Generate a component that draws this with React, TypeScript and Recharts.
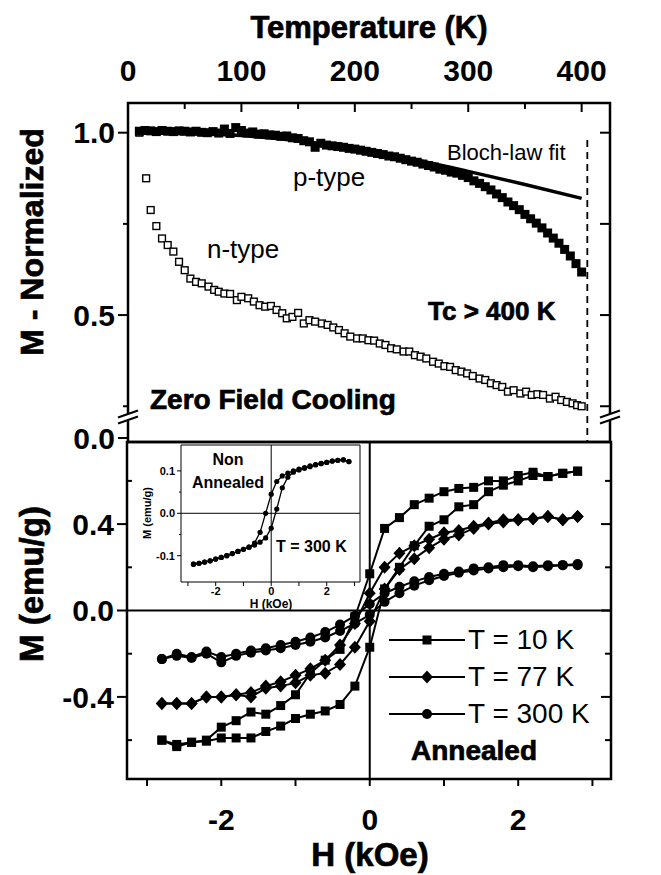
import React from "react";
import {
  ComposedChart,
  Line,
  Scatter,
  XAxis,
  YAxis,
  ReferenceLine,
  ReferenceArea,
  ReferenceDot,
  Legend,
} from "recharts";

const FONT = "'Liberation Sans', Arial, Helvetica, sans-serif";

// ---------- top panel: zero field cooling ----------
const TEMP_TICKS = [0, 50, 100, 150, 200, 250, 300, 350, 400];
const NORM_LO = 0.152;
const NORM_HI = 1.0814;
const NORM_ZERO = 0.163; // "0.0" sits just below the axis break
const NORM_BREAK = 0.222;
const NORM_TICKS = [NORM_ZERO, 0.25, 0.5, 0.75, 1.0];

const P_TEMP = [
  10, 15, 20, 25, 30, 35, 40, 45, 50, 55, 60, 65, 70, 75, 80, 85, 90, 95, 100,
  105, 110, 115, 120, 125, 130, 135, 140, 145, 150, 155, 160, 165, 170, 175, 180,
  185, 190, 195, 200, 205, 210, 215, 220, 225, 230, 235, 240, 245, 250, 255, 260,
  265, 270, 275, 280, 285, 290, 295, 300, 305, 310, 315, 320, 325, 330, 335, 340,
  345, 350, 355, 360, 365, 370, 375, 380, 385, 390, 395, 400,
];
const P_M = [
  1.004, 1.006, 1.005, 1.003, 1.006, 1.004, 1.003, 1.005, 1.004, 1.002, 1.004,
  1.001, 1.0, 1.003, 0.999, 1.01, 0.998, 1.014, 1.006, 0.999, 1.002, 0.996, 0.997,
  0.994, 0.993, 0.99, 0.991, 0.986, 0.984, 0.978, 0.975, 0.96, 0.971, 0.966, 0.964,
  0.962, 0.96, 0.957, 0.955, 0.952, 0.949, 0.946, 0.943, 0.94, 0.936, 0.934, 0.93,
  0.926, 0.922, 0.919, 0.914, 0.91, 0.906, 0.9, 0.897, 0.892, 0.889, 0.883, 0.877,
  0.868, 0.861, 0.852, 0.843, 0.832, 0.822, 0.81, 0.8, 0.789, 0.776, 0.764, 0.752,
  0.739, 0.725, 0.711, 0.697, 0.68, 0.662, 0.641, 0.618,
];

const N_TEMP = [
  10, 16, 20, 25, 30, 35, 40, 45, 50, 55, 60, 65, 71, 76, 80, 85, 90, 96, 100, 106,
  111, 116, 121, 126, 131, 136, 140, 145, 150, 155, 160, 165, 171, 176, 181, 186,
  191, 196, 202, 207, 212, 217, 222, 227, 232, 237, 243, 248, 253, 258, 263, 269,
  274, 279, 284, 289, 294, 299, 304, 310, 315, 320, 325, 330, 335, 340, 346, 351,
  356, 361, 366, 372, 377, 382, 387, 392, 396, 400,
];
const N_M = [
  1.0, 0.875, 0.788, 0.744, 0.71, 0.692, 0.674, 0.646, 0.623, 0.6, 0.591, 0.587,
  0.578, 0.569, 0.564, 0.559, 0.558, 0.541, 0.55, 0.546, 0.537, 0.527, 0.523, 0.525,
  0.514, 0.505, 0.491, 0.495, 0.506, 0.477, 0.486, 0.482, 0.477, 0.473, 0.466, 0.459,
  0.45, 0.441, 0.436, 0.436, 0.431, 0.43, 0.422, 0.418, 0.409, 0.406, 0.4, 0.4, 0.39,
  0.386, 0.381, 0.372, 0.367, 0.36, 0.358, 0.349, 0.345, 0.34, 0.333, 0.326, 0.322,
  0.313, 0.308, 0.303, 0.29, 0.294, 0.285, 0.29, 0.281, 0.283, 0.281, 0.271, 0.276,
  0.267, 0.262, 0.258, 0.253, 0.25,
];

const BLOCH_TEMP = [10, 50, 100, 150, 200, 250, 300, 350, 400];
const BLOCH_M = [1.0, 0.998, 0.992, 0.978, 0.956, 0.928, 0.894, 0.858, 0.82];
const TC_LINE_TEMP = 405;

// ---------- bottom panel: hysteresis loops ----------
const FIELD_TICKS = [-3, -2, -1, 0, 1, 2, 3];
const MOMENT_TICKS = [-0.6, -0.4, -0.2, 0, 0.2, 0.4, 0.6];
const H_FIELD = [
  -2.8, -2.6, -2.4, -2.2, -2.0, -1.8, -1.6, -1.4, -1.2, -1.0, -0.8, -0.6, -0.4,
  -0.2, 0.0, 0.2, 0.4, 0.6, 0.8, 1.0, 1.2, 1.4, 1.6, 1.8, 2.0, 2.2, 2.4, 2.6, 2.8,
];
const DESC_10K = [
  -0.6, -0.62, -0.61, -0.6, -0.54, -0.51, -0.47, -0.48, -0.44, -0.39, -0.29, -0.23,
  -0.18, -0.03, 0.17, 0.38, 0.43, 0.49, 0.52, 0.55, 0.565, 0.57, 0.6, 0.6, 0.625,
  0.64, 0.62, 0.635, 0.645,
];
const ASC_10K = [
  -0.6, -0.63, -0.61, -0.605, -0.59, -0.59, -0.59, -0.56, -0.535, -0.5, -0.48,
  -0.465, -0.435, -0.35, -0.17, 0.1, 0.2, 0.3, 0.39, 0.42, 0.48, 0.49, 0.55, 0.58,
  0.6, 0.625, 0.62, 0.635, 0.645,
];
const DESC_77K = [
  -0.43, -0.43, -0.43, -0.4, -0.4, -0.39, -0.38, -0.35, -0.33, -0.3, -0.27, -0.23,
  -0.16, -0.06, 0.08, 0.2, 0.265, 0.3, 0.33, 0.36, 0.37, 0.39, 0.405, 0.42, 0.42,
  0.425, 0.435, 0.42, 0.435,
];
const ASC_77K = [
  -0.43, -0.43, -0.43, -0.4, -0.4, -0.39, -0.4, -0.36, -0.35, -0.335, -0.3, -0.29,
  -0.25, -0.17, -0.05, 0.1, 0.19, 0.24, 0.29, 0.33, 0.35, 0.38, 0.4, 0.41, 0.42,
  0.425, 0.435, 0.42, 0.435,
];
const DESC_300K = [
  -0.225, -0.2, -0.215, -0.19, -0.215, -0.2, -0.185, -0.175, -0.16, -0.145, -0.125,
  -0.1, -0.065, -0.025, 0.03, 0.08, 0.11, 0.135, 0.155, 0.17, 0.18, 0.195, 0.2, 0.21,
  0.21, 0.205, 0.21, 0.21, 0.21,
];
const ASC_300K = [
  -0.225, -0.21, -0.22, -0.2, -0.24, -0.21, -0.195, -0.185, -0.175, -0.16, -0.145,
  -0.125, -0.095, -0.06, -0.02, 0.04, 0.08, 0.115, 0.14, 0.16, 0.175, 0.185, 0.195,
  0.2, 0.205, 0.2, 0.205, 0.21, 0.215,
];

// inset: non annealed, 300 K
const INSET_FIELD_TICKS = [-3, -2, -1, 0, 1, 2, 3];
const INSET_MOMENT_TICKS = [-0.1, -0.05, 0, 0.05, 0.1];
const DESC_INSET = [
  -0.12, -0.118, -0.115, -0.112, -0.108, -0.104, -0.1, -0.095, -0.09, -0.085, -0.08,
  -0.07, -0.045, 0.0, 0.045, 0.075, 0.088, 0.095, 0.1, 0.104, 0.108, 0.112, 0.115,
  0.118, 0.12, 0.123, 0.125, 0.126, 0.122,
];
const ASC_INSET = [
  -0.12, -0.118, -0.115, -0.112, -0.108, -0.104, -0.1, -0.095, -0.09, -0.085, -0.08,
  -0.075, -0.068, -0.058, -0.035, 0.01, 0.06, 0.085, 0.097, 0.102, 0.106, 0.11, 0.114,
  0.117, 0.12, 0.123, 0.125, 0.126, 0.122,
];

const pType = P_TEMP.map((t, i) => ({ t, m: P_M[i] }));
const nType = N_TEMP.map((t, i) => ({ t, m: N_M[i] }));
const bloch = BLOCH_TEMP.map((t, i) => ({ t, m: BLOCH_M[i] }));
const loop = (vals: number[]) => H_FIELD.map((h, i) => ({ h, m: vals[i] }));

// ---------- marks ----------
const filledSquare = (p: any) =>
  p.cx == null ? <g /> : (
    <rect x={p.cx - 4.5} y={p.cy - 4.5} width={9} height={9} fill="#000" />
  );
const openSquare = (p: any) =>
  p.cx == null ? <g /> : (
    <rect x={p.cx - 3.4} y={p.cy - 3.4} width={6.8} height={6.8} fill="#fff" stroke="#000" strokeWidth={1.4} />
  );

const drawSquare = (cx: number, cy: number) => (
  <rect x={cx - 4.5} y={cy - 4.5} width={9} height={9} fill="#000" />
);
const drawDiamond = (cx: number, cy: number) => (
  <polygon points={`${cx},${cy - 6.5} ${cx + 6},${cy} ${cx},${cy + 6.5} ${cx - 6},${cy}`} fill="#000" />
);
const drawCircle = (cx: number, cy: number) => <circle cx={cx} cy={cy} r={5} fill="#000" />;
const MARKS: Record<string, (cx: number, cy: number) => React.ReactElement> = {
  "T = 10 K": drawSquare,
  "T = 77 K": drawDiamond,
  "T = 300 K": drawCircle,
};
const dotOf = (draw: (cx: number, cy: number) => React.ReactElement) => (p: any) =>
  p.cx == null ? <g key={p.index} /> : <g key={p.index}>{draw(p.cx, p.cy)}</g>;
const insetDot = (p: any) =>
  p.cx == null ? <g key={p.index} /> : <circle key={p.index} cx={p.cx} cy={p.cy} r={2.6} fill="#000" />;

const BreakMark = (p: any) => {
  const { cx, cy } = p;
  return (
    <g>
      <polygon points={`${cx - 10},${cy + 1} ${cx + 10},${cy - 6} ${cx + 10},${cy} ${cx - 10},${cy + 7}`} fill="#fff" />
      <line x1={cx - 10} y1={cy + 1} x2={cx + 10} y2={cy - 6} stroke="#000" strokeWidth={2} />
      <line x1={cx - 10} y1={cy + 7} x2={cx + 10} y2={cy} stroke="#000" strokeWidth={2} />
    </g>
  );
};

// ---------- ticks ----------
const tickText = { fontSize: 30, fontWeight: "bold" as const, fontFamily: FONT, fill: "#000" };

const TempTick = (p: any) => {
  const v = p.payload.value;
  const major = v % 100 === 0;
  return (
    <g>
      <line x1={p.x} x2={p.x} y1={p.y} y2={p.y + (major ? 9 : 6)} stroke="#000" strokeWidth={2} />
      {major && (
        <text x={p.x} y={p.y - 22} textAnchor="middle" {...tickText}>
          {v}
        </text>
      )}
    </g>
  );
};

const NormTickLeft = (p: any) => {
  const v = p.payload.value;
  const label = v === NORM_ZERO ? "0.0" : v === 0.5 || v === 1 ? v.toFixed(1) : null;
  return (
    <g>
      <line x1={p.x - (label ? 10 : 5)} x2={p.x} y1={p.y} y2={p.y} stroke="#000" strokeWidth={2} />
      {label && (
        <text x={p.x - 13} y={p.y} dy="0.36em" textAnchor="end" {...tickText}>
          {label}
        </text>
      )}
    </g>
  );
};

const InwardRightTick = (len: number) => (p: any) =>
  p.payload.value === NORM_ZERO ? (
    <g />
  ) : (
    <line x1={p.x - len} x2={p.x} y1={p.y} y2={p.y} stroke="#000" strokeWidth={2} />
  );

const isMajorMoment = (v: number) => Math.abs(v) < 1e-9 || Math.abs(Math.abs(v) - 0.4) < 1e-9;

const MomentTickLeft = (p: any) => {
  const v = p.payload.value;
  const major = isMajorMoment(v);
  return (
    <g>
      {major ? (
        <line x1={p.x - 10} x2={p.x} y1={p.y} y2={p.y} stroke="#000" strokeWidth={2} />
      ) : (
        <line x1={p.x} x2={p.x + 5} y1={p.y} y2={p.y} stroke="#000" strokeWidth={2} />
      )}
      {major && (
        <text x={p.x - 13} y={p.y} dy="0.36em" textAnchor="end" {...tickText}>
          {v.toFixed(1)}
        </text>
      )}
    </g>
  );
};

const MomentTickRight = (p: any) => {
  const major = isMajorMoment(p.payload.value);
  return <line x1={p.x - (major ? 10 : 6)} x2={p.x} y1={p.y} y2={p.y} stroke="#000" strokeWidth={2} />;
};

const FieldTick = (p: any) => {
  const v = p.payload.value;
  return (
    <g>
      <line x1={p.x} x2={p.x} y1={p.y} y2={p.y + 7} stroke="#000" strokeWidth={2} />
      {v % 2 === 0 && (
        <text x={p.x} y={p.y + 51} textAnchor="middle" {...tickText}>
          {v}
        </text>
      )}
    </g>
  );
};

// inset ticks
const insetText = { fontSize: 11, fontWeight: "bold" as const, fontFamily: FONT, fill: "#000" };
const InsetBottomTick = (p: any) => {
  const v = p.payload.value;
  return (
    <g>
      <line x1={p.x} x2={p.x} y1={p.y} y2={p.y + 4} stroke="#000" strokeWidth={1} />
      {v % 2 === 0 && (
        <text x={p.x} y={p.y + 13} textAnchor="middle" {...insetText}>
          {v}
        </text>
      )}
    </g>
  );
};
const InsetTopTick = (p: any) => (
  <line x1={p.x} x2={p.x} y1={p.y} y2={p.y + 3} stroke="#000" strokeWidth={1} />
);
const InsetLeftTick = (p: any) => {
  const v = p.payload.value;
  const major = Math.abs(v * 10 - Math.round(v * 10)) < 1e-9;
  return (
    <g>
      <line x1={p.x - (major ? 4 : 2)} x2={p.x} y1={p.y} y2={p.y} stroke="#000" strokeWidth={1} />
      {major && (
        <text x={p.x - 6} y={p.y} dy="0.36em" textAnchor="end" {...insetText}>
          {v.toFixed(1)}
        </text>
      )}
    </g>
  );
};
const InsetRightTick = (p: any) => (
  <line x1={p.x - 3} x2={p.x} y1={p.y} y2={p.y} stroke="#000" strokeWidth={1} />
);

const LOOPS = [
  { name: "T = 10 K", desc: DESC_10K, asc: ASC_10K },
  { name: "T = 77 K", desc: DESC_77K, asc: ASC_77K },
  { name: "T = 300 K", desc: DESC_300K, asc: ASC_300K },
];

// ---------- legend ----------
const LoopLegend = (props: any) => {
  const shown = new Set((props.payload || []).map((e: any) => e.value));
  return (
    <div style={{ fontFamily: FONT }}>
      {LOOPS.filter((l) => shown.has(l.name)).map((l) => (
        <div key={l.name} style={{ display: "flex", alignItems: "center", height: 37 }}>
          <svg width={78} height={20}>
            <line x1={1} x2={77} y1={10} y2={10} stroke="#000" strokeWidth={2.2} />
            {MARKS[l.name](39, 10)}
          </svg>
          <span style={{ fontSize: 28, color: "#000", marginLeft: 2, lineHeight: "28px" }}>{l.name}</span>
        </div>
      ))}
    </div>
  );
};

function TopPanel() {
  return (
    <ComposedChart width={661} height={462} margin={{ top: 0, right: 0, bottom: 20, left: 0 }}>
      <XAxis
        type="number"
        dataKey="t"
        orientation="top"
        domain={[0, 425]}
        ticks={TEMP_TICKS}
        interval={0}
        height={103}
        axisLine={false}
        tickLine={false}
        tickSize={0}
        tickMargin={0}
        tick={TempTick}
        allowDataOverflow
      />
      <YAxis
        type="number"
        domain={[NORM_LO, NORM_HI]}
        ticks={NORM_TICKS}
        interval={0}
        width={128}
        axisLine={false}
        tickLine={false}
        tickSize={0}
        tickMargin={0}
        tick={NormTickLeft}
        allowDataOverflow
      />
      <YAxis
        yAxisId="r"
        orientation="right"
        type="number"
        domain={[NORM_LO, NORM_HI]}
        ticks={NORM_TICKS}
        interval={0}
        width={51}
        axisLine={false}
        tickLine={false}
        tickSize={0}
        tickMargin={0}
        tick={InwardRightTick(10)}
        allowDataOverflow
      />
      <ReferenceArea x1={0} x2={425} y1={NORM_LO} y2={NORM_HI} fill="none" stroke="#000" strokeWidth={2.5} ifOverflow="visible" />
      <ReferenceLine
        segment={[{ x: TC_LINE_TEMP, y: 0.98 }, { x: TC_LINE_TEMP, y: NORM_LO }]}
        stroke="#000"
        strokeWidth={1.8}
        strokeDasharray="7 5"
        ifOverflow="visible"
      />
      <Scatter data={nType} dataKey="m" shape={openSquare} isAnimationActive={false} />
      <Scatter data={pType} dataKey="m" shape={filledSquare} isAnimationActive={false} />
      <Line data={bloch} dataKey="m" type="monotone" stroke="#000" strokeWidth={3.5} dot={false} activeDot={false} isAnimationActive={false} />
      <ReferenceDot x={0} y={NORM_BREAK} shape={BreakMark} ifOverflow="visible" />
      <ReferenceDot x={425} y={NORM_BREAK} shape={BreakMark} ifOverflow="visible" />
    </ComposedChart>
  );
}

function BottomPanel() {
  return (
    <ComposedChart width={661} height={445} margin={{ top: 12, right: 0, bottom: 0, left: 0 }}>
      <XAxis
        type="number"
        dataKey="h"
        domain={[-3.27, 3.25]}
        ticks={FIELD_TICKS}
        interval={0}
        height={96}
        axisLine={false}
        tickLine={false}
        tickSize={0}
        tickMargin={0}
        tick={FieldTick}
        allowDataOverflow
      />
      <YAxis
        type="number"
        domain={[-0.78, 0.78]}
        ticks={MOMENT_TICKS}
        interval={0}
        width={127}
        axisLine={false}
        tickLine={false}
        tickSize={0}
        tickMargin={0}
        tick={MomentTickLeft}
        allowDataOverflow
      />
      <YAxis
        yAxisId="r"
        orientation="right"
        type="number"
        domain={[-0.78, 0.78]}
        ticks={MOMENT_TICKS}
        interval={0}
        width={50}
        axisLine={false}
        tickLine={false}
        tickSize={0}
        tickMargin={0}
        tick={MomentTickRight}
        allowDataOverflow
      />
      <ReferenceArea x1={-3.27} x2={3.25} y1={-0.78} y2={0.78} fill="none" stroke="#000" strokeWidth={2.5} ifOverflow="visible" />
      <ReferenceLine y={0} stroke="#000" strokeWidth={2} />
      <ReferenceLine x={0} stroke="#000" strokeWidth={2} />
      {LOOPS.map((l) => (
        <Line
          key={l.name + "d"}
          name={l.name}
          data={loop(l.desc)}
          dataKey="m"
          type="linear"
          stroke="#000"
          strokeWidth={2}
          dot={dotOf(MARKS[l.name])}
          activeDot={false}
          isAnimationActive={false}
        />
      ))}
      {LOOPS.map((l) => (
        <Line
          key={l.name + "a"}
          name={l.name + " up"}
          legendType="none"
          data={loop(l.asc)}
          dataKey="m"
          type="linear"
          stroke="#000"
          strokeWidth={2}
          dot={dotOf(MARKS[l.name])}
          activeDot={false}
          isAnimationActive={false}
        />
      ))}
      <Legend
        layout="vertical"
        align="center"
        verticalAlign="middle"
        content={LoopLegend}
        wrapperStyle={{ position: "absolute", left: 388, top: 191, width: 240 }}
      />
    </ComposedChart>
  );
}

function Inset() {
  return (
    <ComposedChart width={225} height={175} margin={{ top: 5, right: 5, bottom: 0, left: 0 }}>
      <XAxis
        type="number"
        dataKey="h"
        domain={[-3.25, 3.2]}
        ticks={INSET_FIELD_TICKS}
        interval={0}
        height={33}
        axisLine={false}
        tickLine={false}
        tickSize={0}
        tickMargin={0}
        tick={InsetBottomTick}
        allowDataOverflow
      />
      <XAxis
        xAxisId="top"
        orientation="top"
        type="number"
        domain={[-3.25, 3.2]}
        ticks={INSET_FIELD_TICKS}
        interval={0}
        height={0}
        axisLine={false}
        tickLine={false}
        tickSize={0}
        tickMargin={0}
        tick={InsetTopTick}
        allowDataOverflow
      />
      <YAxis
        type="number"
        domain={[-0.162, 0.161]}
        ticks={INSET_MOMENT_TICKS}
        interval={0}
        width={41}
        axisLine={false}
        tickLine={false}
        tickSize={0}
        tickMargin={0}
        tick={InsetLeftTick}
        allowDataOverflow
      />
      <YAxis
        yAxisId="r"
        orientation="right"
        type="number"
        domain={[-0.162, 0.161]}
        ticks={INSET_MOMENT_TICKS}
        interval={0}
        width={0}
        axisLine={false}
        tickLine={false}
        tickSize={0}
        tickMargin={0}
        tick={InsetRightTick}
        allowDataOverflow
      />
      <ReferenceArea x1={-3.25} x2={3.2} y1={-0.162} y2={0.161} fill="none" stroke="#000" strokeWidth={1} ifOverflow="visible" />
      <ReferenceLine y={0} stroke="#000" strokeWidth={1} />
      <ReferenceLine x={0} stroke="#000" strokeWidth={1} />
      <Line data={loop(DESC_INSET)} dataKey="m" stroke="#000" strokeWidth={1.3} dot={insetDot} activeDot={false} isAnimationActive={false} />
      <Line data={loop(ASC_INSET)} dataKey="m" stroke="#000" strokeWidth={1.3} dot={insetDot} activeDot={false} isAnimationActive={false} />
    </ComposedChart>
  );
}

const heavy = { fontWeight: "bold" as const, stroke: "#000", strokeWidth: 0.7 };

export default function App() {
  return (
    <div style={{ position: "absolute", left: 0, top: 0, width: 661, height: 875, background: "#fff", overflow: "hidden" }}>
      <svg width={661} height={875} style={{ position: "absolute", left: 0, top: 0 }} fontFamily={FONT} fill="#000">
        <text x={369} y={38} textAnchor="middle" fontSize={31} {...heavy}>Temperature (K)</text>
        <text transform="translate(43,242) rotate(-90)" textAnchor="middle" fontSize={32} {...heavy}>M - Normalized</text>
        <text transform="translate(43,584) rotate(-90)" textAnchor="middle" fontSize={33} {...heavy}>M (emu/g)</text>
        <text x={370} y={866} textAnchor="middle" fontSize={33} {...heavy}>H (kOe)</text>
        <text x={447} y={160} fontSize={22}>Bloch-law fit</text>
        <text x={293} y={186} fontSize={26}>p-type</text>
        <text x={207} y={258} fontSize={26}>n-type</text>
        <text x={428} y={320} fontSize={26} {...heavy}>Tc &gt; 400 K</text>
        <text x={150} y={409} fontSize={28} {...heavy}>Zero Field Cooling</text>
        <text x={474} y={760} textAnchor="middle" fontSize={28} {...heavy}>Annealed</text>
        <text x={228} y={465} textAnchor="middle" fontSize={16} fontWeight="bold">Non</text>
        <text x={228} y={488} textAnchor="middle" fontSize={16} fontWeight="bold">Annealed</text>
        <text x={276} y={552} fontSize={16} fontWeight="bold">T = 300 K</text>
        <text x={271} y={608} textAnchor="middle" fontSize={12} fontWeight="bold">H (kOe)</text>
        <text transform="translate(151,513) rotate(-90)" textAnchor="middle" fontSize={11} fontWeight="bold">M (emu/g)</text>
      </svg>
      <div style={{ position: "absolute", left: 0, top: 0 }}>
        <TopPanel />
      </div>
      <div style={{ position: "absolute", left: 0, top: 430 }}>
        <BottomPanel />
      </div>
      <div style={{ position: "absolute", left: 140, top: 440 }}>
        <Inset />
      </div>
    </div>
  );
}
